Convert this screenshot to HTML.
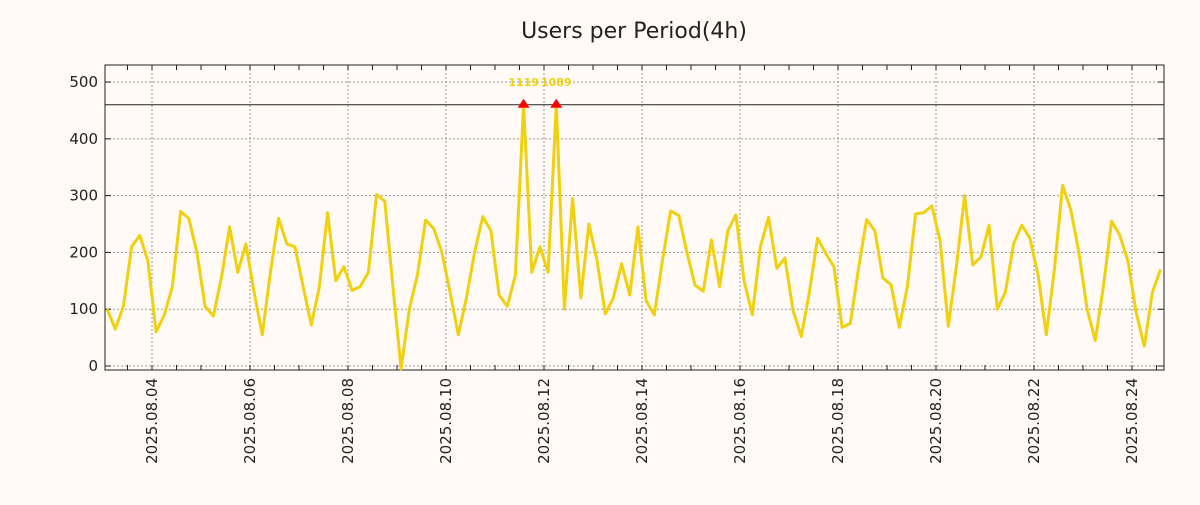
<!DOCTYPE html>
<html><head><meta charset="utf-8"><style>
body{margin:0;background:#fffaf5;}
svg text{font-family:"DejaVu Sans","Liberation Sans",sans-serif;}
</style></head><body>
<svg width="1200" height="500" xmlns="http://www.w3.org/2000/svg">
<rect width="1200" height="500" fill="#fffaf5"/>
<text x="634" y="38" font-size="22" text-anchor="middle" fill="#222">Users per Period(4h)</text>
<g id="grid"></g><g id="axes"></g><g id="series"></g>
</svg>
<script>
const values = [100,65,105,210,230,185,60,90,140,272,260,200,105,88,155,245,165,215,130,55,
165,260,215,210,140,72,140,270,150,175,133,140,165,302,290,140,-5,100,160,257,
242,200,130,55,120,200,263,238,125,105,160,1119,165,210,165,1089,100,295,120,250,
185,92,120,180,125,245,115,90,185,273,265,200,142,132,222,140,238,266,150,90,
210,262,172,190,98,52,130,225,198,175,68,75,170,258,238,155,143,68,140,268,
270,282,220,70,175,300,178,192,248,100,130,215,248,225,160,55,170,318,275,200,
100,45,140,255,230,185,95,35,130,170];
const yTicks = [0,100,200,300,400,500];
const xTickLabels = ["2025.08.04","2025.08.06","2025.08.08","2025.08.10","2025.08.12","2025.08.14","2025.08.16","2025.08.18","2025.08.20","2025.08.22","2025.08.24"];
const capValue = 460;

const NS="http://www.w3.org/2000/svg";
const L=105,R=1164,T=65,B=370;
const yMin=-7,yMax=530;
const y=v=>B-(v-yMin)/(yMax-yMin)*(B-T);
const day0=Date.UTC(2025,7,4);
const dayPx=49,x0=152;
const tx=ms=>x0+(ms-day0)/86400000*dayPx;
const t0=Date.UTC(2025,7,3,2);
const xi=i=>tx(t0+i*4*3600000);
function mk(tag,attrs,parent){const e=document.createElementNS(NS,tag);for(const k in attrs)e.setAttribute(k,attrs[k]);parent.appendChild(e);return e;}
const grid=document.getElementById('grid'),axes=document.getElementById('axes'),series=document.getElementById('series');
yTicks.forEach(v=>{
  const g=mk('line',{x1:L,x2:R,y1:y(v),y2:y(v),stroke:'#999','stroke-dasharray':'2,2'},grid);
  
  
  mk('line',{x1:L,x2:L+6,y1:y(v),y2:y(v),stroke:'#222'},axes);
  mk('line',{x1:R-6,x2:R,y1:y(v),y2:y(v),stroke:'#222'},axes);
  const t=mk('text',{x:L-7,y:y(v)+5,'font-size':15,'text-anchor':'end',fill:'#222'},axes);
  t.textContent=v;
  
  
});
xTickLabels.forEach(s=>{
  const p=s.split('.');const ms=Date.UTC(+p[0],+p[1]-1,+p[2]);const xx=tx(ms);
  const g=mk('line',{x1:xx,x2:xx,y1:T,y2:B,stroke:'#999','stroke-dasharray':'2,2'},grid);
  
  
  const t=mk('text',{x:0,y:0,'font-size':15,'text-anchor':'end',fill:'#222',transform:`translate(${xx+5},${B+8}) rotate(-90)`},axes);
  t.textContent=s;
  
  
});
for(let h=0;h<24*23;h+=12){const xx=tx(Date.UTC(2025,7,3)+h*3600000);if(xx>L&&xx<R){mk('line',{x1:xx,x2:xx,y1:B,y2:B-5,stroke:'#222'},axes);mk('line',{x1:xx,x2:xx,y1:T,y2:T+5,stroke:'#222'},axes);}}
const frame=mk('rect',{x:L,y:T,width:R-L,height:B-T,fill:'none',stroke:'#222'},axes);


const cap=mk('line',{x1:L,x2:R,y1:y(capValue),y2:y(capValue),stroke:'#222'},axes);


const pts=values.map((v,i)=>xi(i).toFixed(1)+','+y(Math.min(v,capValue)).toFixed(1)).join(' ');
const pl=mk('polyline',{points:pts,fill:'none',stroke:'#f0d010','stroke-width':3,'stroke-linejoin':'round'},series);


values.forEach((v,i)=>{if(v>capValue){
  const xx=xi(i),yy=y(capValue);
  const tr=mk('polygon',{points:`${xx-6},${yy+3} ${xx+6},${yy+3} ${xx},${yy-6}`,fill:'#f00'},series);
  
  
  const t=mk('text',{x:xx,y:y(500)+4,'font-size':11,'font-weight':'bold','text-anchor':'middle',fill:'#f0d010'},series);
  t.textContent=v;
  
  
}});
</script>
</body></html>
